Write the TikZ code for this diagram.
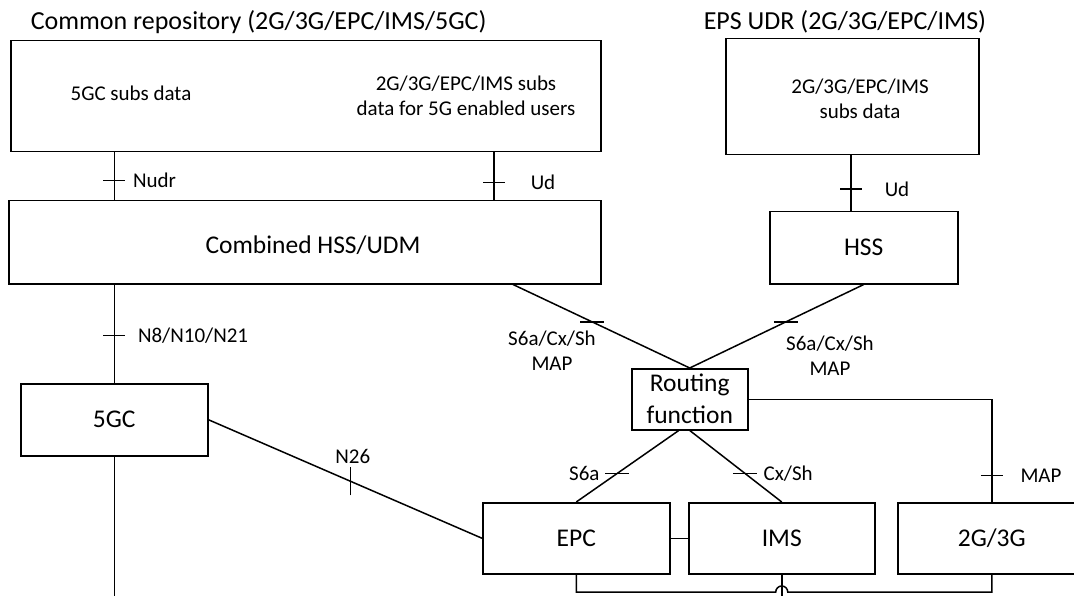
\documentclass[tikz,border=0pt]{standalone}
\usepackage{fontspec}
\setmainfont{Carlito}
\usetikzlibrary{calc}
\begin{document}
\begin{tikzpicture}[x=1pt,y=-1pt,line width=1.5pt,
  box/.style={draw,rectangle,inner sep=0pt,anchor=north west,font=\fontsize{25.5}{32}\selectfont,align=center},
  ttl/.style={inner sep=0pt,anchor=west,font=\fontsize{26}{30}\selectfont},
  lbl/.style={inner sep=0pt,font=\fontsize{21}{25}\selectfont,align=center},
  tickh/.style={line width=1.5pt},
]
\clip (0,0) rectangle (1074,596);
% boxes
\node[box,minimum width=590pt,minimum height=111pt] (repo) at (10,40) {};
\node[box,minimum width=253pt,minimum height=116pt] (eps) at (725,38) {};
\node[box,minimum width=592pt,minimum height=83pt] (hssudm) at (8,200) {};
\node[box,minimum width=188pt,minimum height=72pt] (hss) at (769,211) {HSS};
\node[box,minimum width=187pt,minimum height=72pt] (fivegc) at (20,383) {5GC};
\node[box,minimum width=116pt,minimum height=61pt] (routing) at (631,368) {Routing\\function};
\node[box,minimum width=187pt,minimum height=71pt] (epc) at (482,502) {EPC};
\node[box,minimum width=186pt,minimum height=71pt] (ims) at (688,502) {IMS};
\node[box,minimum width=188pt,minimum height=71pt] (g23) at (897,502) {2G/3G};
% texts
\node[ttl] (repoT) at (30,22) {Common repository (2G/3G/EPC/IMS/5GC)};
\node[ttl] (epsT) at (703,22) {EPS UDR (2G/3G/EPC/IMS)};
\node[lbl] (repoL) at (131,93) {5GC subs data};
\node[lbl] (repoR) at (466,96) {2G/3G/EPC/IMS subs\\data for 5G enabled users};
\node[lbl] (epsL) at (860,99) {2G/3G/EPC/IMS\\subs data};
\node[inner sep=0pt,font=\fontsize{25.5}{30}\selectfont] (hssudmT) at (313,245) {Combined HSS/UDM};
% helper coordinates
\coordinate (udx) at (494,0);
\coordinate (udy) at (851,0);
\coordinate (s6x) at (513,0);
\coordinate (bot) at (0,600);
\coordinate (busY) at (0,592);
% Nudr
\draw (repo.south -| fivegc.north) -- coordinate[pos=0.59] (tNudr) (hssudm.north -| fivegc.north);
\draw[tickh] ([xshift=-11pt]tNudr) -- ([xshift=11pt]tNudr);
\node[lbl,anchor=west] (lNudr) at ([xshift=18pt]tNudr) {Nudr};
% Ud common
\draw (repo.south -| udx) -- coordinate[pos=0.63] (tUd1) (hssudm.north -| udx);
\draw[tickh] ([xshift=-11pt]tUd1) -- ([xshift=11pt]tUd1);
\node[lbl,anchor=west] (lUd1) at ([xshift=36pt]tUd1) {Ud};
% Ud EPS
\draw (eps.south -| udy) -- coordinate[pos=0.6] (tUd2) (hss.north -| udy);
\draw[tickh] ([xshift=-11pt]tUd2) -- ([xshift=11pt]tUd2);
\node[lbl,anchor=west] (lUd2) at ([xshift=33pt]tUd2) {Ud};
% N8/N10/N21
\draw (hssudm.south -| fivegc.north) -- coordinate[pos=0.52] (tN8) (fivegc.north);
\draw[tickh] ([xshift=-11pt]tN8) -- ([xshift=11pt]tN8);
\node[lbl,anchor=west] (lN8) at ([xshift=23pt]tN8) {N8/N10/N21};
% 5GC down
\draw (fivegc.south) -- (fivegc.south |- bot);
% N26
\draw (fivegc.east) -- coordinate[pos=0.52] (tN26) (epc.west);
\draw[tickh] ([yshift=-14pt]tN26) -- ([yshift=14pt]tN26);
\node[lbl] (lN26) at ($(tN26)+(2,-25)$) {N26};
% S6a/Cx/Sh left
\draw (hssudm.south -| s6x) -- coordinate[pos=0.447] (tL) (routing.north);
\draw[tickh] ([xshift=-12pt]tL) -- ([xshift=12pt]tL);
\node[lbl] (lL) at ($(tL)+(-40,29)$) {S6a/Cx/Sh\\MAP};
% S6a/Cx/Sh right
\draw (hss.south) -- coordinate[pos=0.447] (tR) (routing.north);
\draw[tickh] ([xshift=-12pt]tR) -- ([xshift=12pt]tR);
\node[lbl] (lR) at ($(tR)+(44,34)$) {S6a/Cx/Sh\\MAP};
% MAP to 2G/3G
\draw (routing.east) -| coordinate[pos=0.87] (tMAP) (g23.north);
\draw[tickh] ([xshift=-11pt]tMAP) -- ([xshift=11pt]tMAP);
\node[lbl,anchor=west] (lMAP) at ([xshift=28pt]tMAP) {MAP};
% S6a
\draw ([xshift=-11pt]routing.south) -- coordinate[pos=0.6] (tS6a) (epc.north);
\draw[tickh] ([xshift=-12pt]tS6a) -- ([xshift=12pt]tS6a);
\node[lbl,anchor=east] (lS6a) at ([xshift=-17pt]tS6a) {S6a};
% Cx/Sh
\draw (routing.south) -- coordinate[pos=0.6] (tCx) (ims.north);
\draw[tickh] ([xshift=-12pt]tCx) -- ([xshift=12pt]tCx);
\node[lbl,anchor=west] (lCx) at ([xshift=18pt]tCx) {Cx/Sh};
% EPC-IMS
\draw (epc.east) -- (ims.west);
% bottom bus with hop
\draw (epc.south) -- (epc.south |- busY) -- ([xshift=-6pt]ims.south |- busY) arc[start angle=180,end angle=0,radius=6pt] -- (g23.south |- busY) -- (g23.south);
\draw (ims.south) -- (ims.south |- bot);
\end{tikzpicture}
\end{document}
